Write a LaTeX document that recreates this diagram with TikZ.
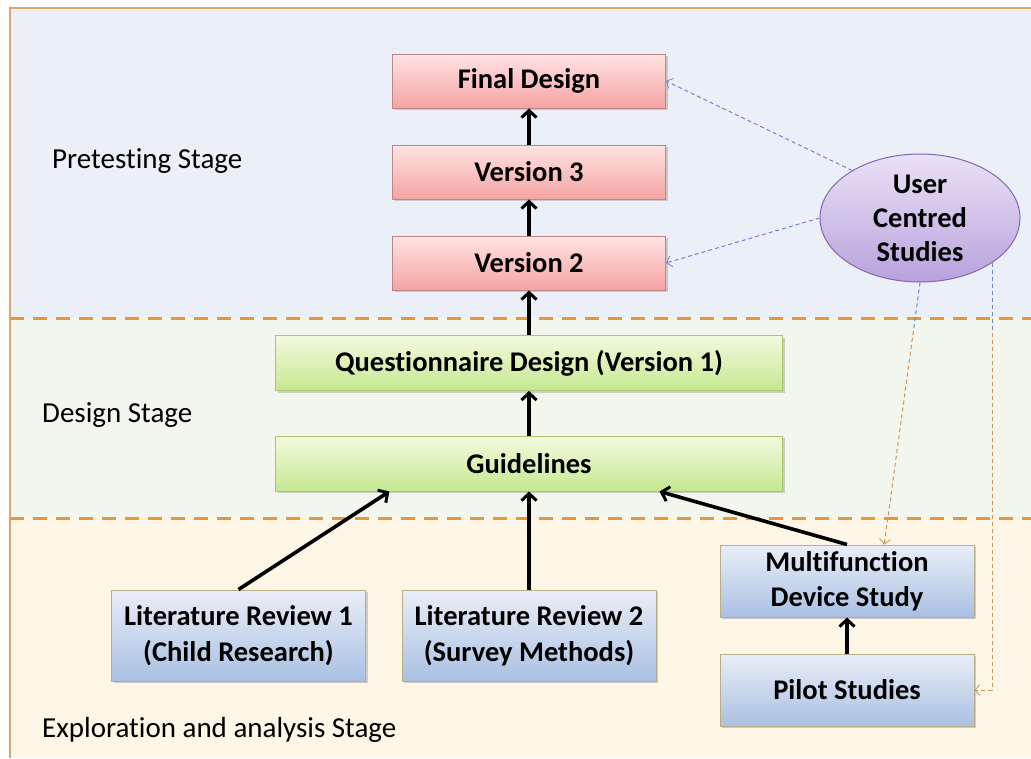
\documentclass[tikz,border=0pt]{standalone}
\usepackage{fontspec}
\setmainfont[Ligatures={NoCommon}]{Carlito}
\usetikzlibrary{arrows.meta,shapes.geometric,shadows,calc}
\definecolor{bgA}{HTML}{EBEFF7}
\definecolor{bgB}{HTML}{F3F6EC}
\definecolor{bgC}{HTML}{FDF6E7}
\definecolor{frameC}{HTML}{DCA46E}
\definecolor{dashC}{HTML}{E8963C}
\definecolor{blueD}{HTML}{6F86C9}
\definecolor{tanD}{HTML}{C8955A}
\definecolor{pinkT}{HTML}{FFE3E3}
\definecolor{pinkB}{HTML}{F5A3A3}
\definecolor{pinkL}{HTML}{C08585}
\definecolor{greenT}{HTML}{F2FADF}
\definecolor{greenB}{HTML}{C6E890}
\definecolor{greenL}{HTML}{A8C66E}
\definecolor{blueT}{HTML}{E9EEF7}
\definecolor{blueB}{HTML}{AAC0E3}
\definecolor{blueL}{HTML}{B8AE84}
\definecolor{violT}{HTML}{EAE2F6}
\definecolor{violB}{HTML}{B8A2DD}
\definecolor{violL}{HTML}{8068B0}
\tikzset{
  box/.style={draw, line width=1pt, shading=axis, font=\fontsize{28.5}{35.5}\selectfont\bfseries,
    align=center, inner sep=0pt, drop shadow={shadow xshift=2pt, shadow yshift=-2pt, opacity=0.35, fill=gray}},
  pinkbox/.style={box, draw=pinkL, top color=pinkT, bottom color=pinkB, minimum width=273pt, minimum height=54pt},
  greenbox/.style={box, draw=greenL, top color=greenT, bottom color=greenB, minimum width=507pt, minimum height=55pt},
  bluebox/.style={box, draw=blueL, top color=blueT, bottom color=blueB, minimum width=254pt},
  stage/.style={anchor=base west, font=\fontsize{29}{33}\selectfont, inner sep=0pt},
  flow/.style={line width=3.6pt, -{Straight Barb[length=7pt,width=15pt,line width=3pt]}},
  dashlink/.style={line width=1pt, dash pattern=on 4pt off 3pt, -{Straight Barb[length=5pt,width=11pt,line width=0.8pt]}}
}
\begin{document}
\begin{tikzpicture}[x=1pt,y=-1pt]
\useasboundingbox (0,0) rectangle (1031,758);
% regions
\fill[bgA] (10,8) rectangle (1031,318);
\fill[bgB] (10,318) rectangle (1031,518);
\fill[bgC] (10,518) rectangle (1031,758);
\draw[frameC, line width=2pt] (10,758) -- (10,8) -- (1031,8);
\draw[dashC, line width=3pt, dash pattern=on 14pt off 9pt] (10,318) -- (1031,318);
\draw[dashC, line width=3pt, dash pattern=on 14pt off 9pt] (10,518) -- (1031,518);
% stage labels
\node[stage] (ps) at (52,168) {Pretesting Stage};
\node[stage] (ds) at (42,422) {Design Stage};
\node[stage] (es) at (42,737) {Exploration and analysis Stage};
% boxes
\node[pinkbox] (F) at (529,81) {Final Design};
\node[pinkbox] (V3) at (529,172) {Version 3};
\node[pinkbox] (V2) at (529,263) {Version 2};
\node[greenbox] (Q) at (529,363) {Questionnaire Design (Version 1)};
\node[greenbox] (G) at (529,463.5) {Guidelines};
\node[bluebox, minimum height=91pt] (L1) at (238.5,635.5) {Literature Review 1\\(Child Research)};
\node[bluebox, minimum height=91pt] (L2) at (529,635.5) {Literature Review 2\\(Survey Methods)};
\node[bluebox, minimum height=72pt] (M) at (847,581) {Multifunction\\Device Study};
\node[bluebox, minimum height=72pt] (P) at (847,690) {Pilot Studies};
\node[ellipse, draw=violL, line width=1pt, shading=axis, top color=violT, bottom color=violB,
  minimum width=200pt, minimum height=128pt, inner sep=0pt, align=center,
  font=\fontsize{28.5}{34}\selectfont\bfseries] (U) at (920,218) {User\\Centred\\Studies};
% flow arrows
\draw[flow] (V2) -- (V3);
\draw[flow] (V3) -- (F);
\draw[flow] (Q) -- (V2);
\draw[flow] (G) -- (Q);
\draw[flow] (L2) -- (G);
\draw[flow] (P) -- (M);
\draw[flow] (L1.north) -- ($(G.south west)!0.225!(G.south east)$);
\draw[flow] (M.north) -- ($(G.south west)!0.757!(G.south east)$);
% dashed links
\draw[dashlink, blueD] (U.145) -- (F.east);
\draw[dashlink, blueD] (U.west) -- (V2.east);
\begin{scope}
\clip (0,0) rectangle (1031,330);
\draw[dashlink, blueD] (U.south) -- ($(M.north west)!0.646!(M.north east)$);
\draw[dashlink, blueD] (U.-32) |- (P.east);
\end{scope}
\begin{scope}
\clip (0,330) rectangle (1031,758);
\draw[dashlink, tanD] (U.south) -- ($(M.north west)!0.646!(M.north east)$);
\draw[dashlink, tanD] (U.-32) |- (P.east);
\end{scope}
\end{tikzpicture}
\end{document}
